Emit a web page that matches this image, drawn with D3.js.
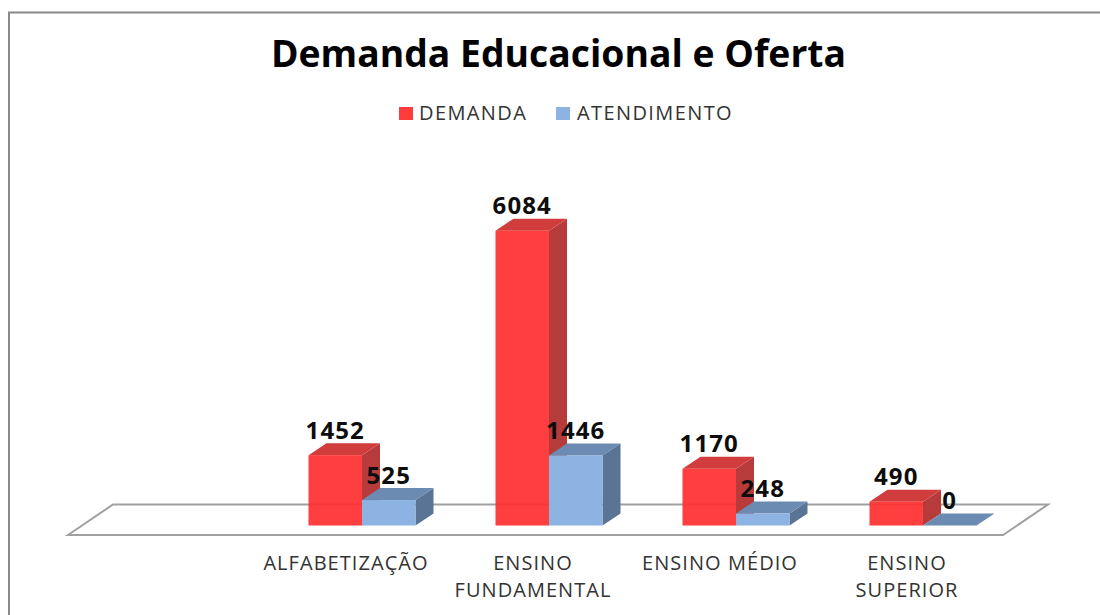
<!DOCTYPE html>
<html><head><meta charset="utf-8">
<script src="https://cdn.jsdelivr.net/npm/d3@7"></script>
<style>html,body{margin:0;padding:0;background:#fff}svg{display:block}text{font-family:"Open Sans",sans-serif}</style>
</head><body><svg id="c" width="1100" height="615"></svg>
<script>
const chartTitle = "Demanda Educacional e Oferta";
const categories = ["ALFABETIZAÇÃO", "ENSINO FUNDAMENTAL", "ENSINO MÉDIO", "ENSINO SUPERIOR"];
const categoryLines = [["ALFABETIZAÇÃO"], ["ENSINO", "FUNDAMENTAL"], ["ENSINO MÉDIO"], ["ENSINO", "SUPERIOR"]];
const seriesNames = ["DEMANDA", "ATENDIMENTO"];
const demanda = [1452, 6084, 1170, 490];
const atendimento = [525, 1446, 248, 0];
const palette = {
  DEMANDA: {front: "#ff3030", legend: "#ff3b3b", top: "#d13c3c", side: "#b83b3b"},
  ATENDIMENTO: {front: "#8db3e2", legend: "#8db3e2", top: "#6c8bb2", side: "#5a7496"}
};

const svg = d3.select("#c");
const W = 1100, H = 615;
const baseY = 525.5, depthX = 18, depthY = -12;
const x0 = d3.scaleBand().domain(categories).range([268.5, 1016.5]).paddingInner(0).paddingOuter(0);
const x1 = d3.scaleBand().domain(seriesNames).range([-53.5, 53.5]);
const y = d3.scaleLinear().domain([0, 6084]).range([baseY, 230.7]);
const seriesValues = {DEMANDA: demanda, ATENDIMENTO: atendimento};

// frame
svg.append("path").attr("d", d3.line()([[9, H], [9, 12.5], [W, 12.5]]))
  .attr("fill", "none").attr("stroke", "#8a8a8a").attr("stroke-width", 2);

// floor
const floorFront = 535, floorBack = 504.5;
svg.append("path").attr("d", d3.line()([[68, floorFront], [113, floorBack], [1048, floorBack], [1003, floorFront]]) + "Z")
  .attr("fill", "#fff").attr("stroke", "#a0a0a0").attr("stroke-width", 2);

// bars
const groups = svg.selectAll("g.cat").data(categories).join("g").attr("class", "cat")
  .attr("transform", c => `translate(${x0(c) + x0.bandwidth() / 2},0)`);
seriesNames.forEach(s => {
  const b = groups.append("g").attr("class", "bar").datum((c, i) => ({value: seriesValues[s][i], s}));
  const L = x1(s), R = x1(s) + x1.bandwidth();
  b.append("path").attr("fill", palette[s].side).attr("d", d => d3.line()([[R, y(d.value)], [R + depthX, y(d.value) + depthY], [R + depthX, baseY + depthY], [R, baseY]]) + "Z");
  b.append("path").attr("fill", palette[s].top).attr("d", d => d3.line()([[L, y(d.value)], [L + depthX, y(d.value) + depthY], [R + depthX, y(d.value) + depthY], [R, y(d.value)]]) + "Z");
  b.append("rect").attr("fill", palette[s].front).attr("fill-opacity", s === "DEMANDA" ? 0.93 : 1)
    .attr("x", L).attr("width", x1.bandwidth()).attr("y", d => y(d.value)).attr("height", d => baseY - y(d.value));
});

// data labels
seriesNames.forEach(s => {
  groups.append("text").datum((c, i) => seriesValues[s][i])
    .attr("x", x1(s) + x1.bandwidth() / 2)
    .attr("y", d => y(d) - 16.5)
    .attr("text-anchor", "middle").attr("font-size", 24).attr("font-weight", 700).attr("letter-spacing", 1.1).attr("fill", "#0d0d0d")
    .text(d => d);
});

// category labels
groups.each(function (c, i) {
  const t = d3.select(this).append("text").attr("text-anchor", "middle").attr("font-size", 20).attr("letter-spacing", 1.05).attr("fill", "#333");
  categoryLines[i].forEach((ln, k) => t.append("tspan").attr("x", -16).attr("y", 570 + k * 27).text(ln));
});

// title
svg.append("text").attr("x", 558.5).attr("y", 67).attr("text-anchor", "middle")
  .attr("font-size", 37.3).attr("font-weight", 700).attr("fill", "#000").text(chartTitle);

// legend
const legendX = {DEMANDA: 399, ATENDIMENTO: 556}, legendLabelX = {DEMANDA: 419, ATENDIMENTO: 577};
seriesNames.forEach(s => {
  svg.append("rect").attr("x", legendX[s]).attr("y", 107).attr("width", 14).attr("height", 13).attr("fill", palette[s].legend);
  svg.append("text").attr("x", legendLabelX[s]).attr("y", 120).attr("font-size", 20).attr("letter-spacing", 1.4).attr("fill", "#333").text(s);
});
</script></body></html>
